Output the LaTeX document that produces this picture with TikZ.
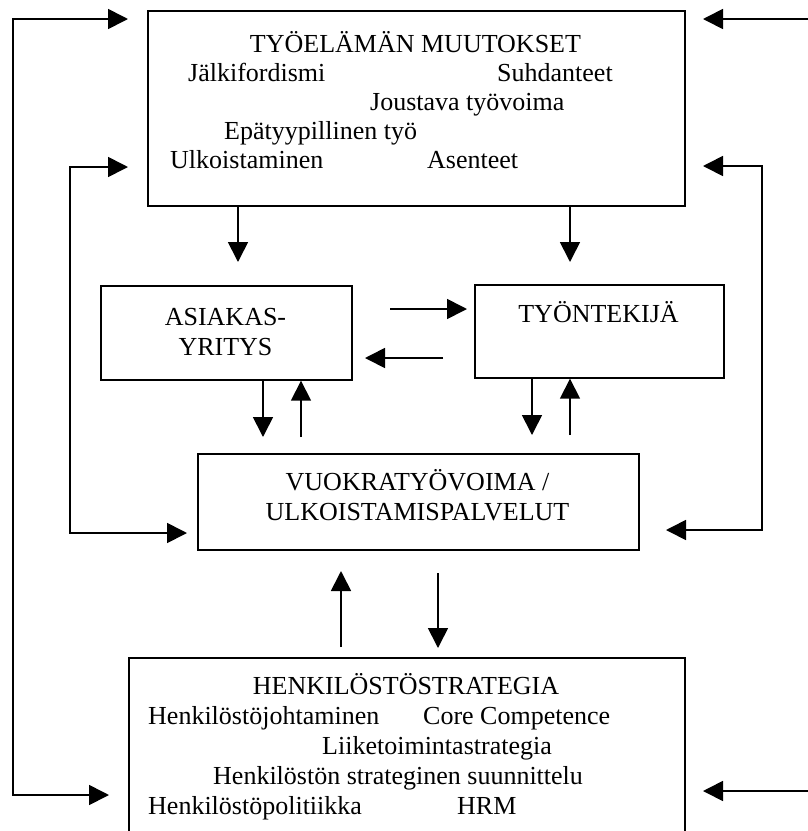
\documentclass[tikz,border=0pt]{standalone}
\usepackage{fontspec}
\setmainfont{Liberation Serif}
\usetikzlibrary{arrows.meta}
\begin{document}
\begin{tikzpicture}[x=1pt,y=-1pt,
  box/.style={draw, line width=1.7pt, inner sep=0pt, anchor=north west},
  txt/.style={inner sep=0pt, anchor=base west, font=\fontsize{26}{30}\selectfont},
  ctxt/.style={inner sep=0pt, anchor=base, font=\fontsize{26}{30}\selectfont},
  link/.style={line width=1.7pt},
  arr/.style={link, -{Triangle[length=20pt,width=20pt]}},
  dblarr/.style={link, {Triangle[length=20pt,width=20pt]}-{Triangle[length=20pt,width=20pt]}}]
\useasboundingbox (0,0) rectangle (808,831);
\clip (0,0) rectangle (808,831);

% ---- boxes ----
\node[box, minimum width=537pt, minimum height=195pt] (muutokset) at (147,10) {};
\node[box, minimum width=251pt, minimum height=94pt] (asiakas) at (100,285) {};
\node[box, minimum width=249pt, minimum height=93pt] (tyontekija) at (474,284) {};
\node[box, minimum width=441pt, minimum height=96pt] (vuokra) at (197,453) {};
\node[box, minimum width=556pt, minimum height=220pt] (strategia) at (128,657) {};

% ---- texts: working-life changes ----
\node[ctxt] (m-title) at (415.5,52) {TYÖELÄMÄN MUUTOKSET};
\node[txt] (m-jalki) at (188,81) {Jälkifordismi};
\node[txt] (m-suhd) at (497,81) {Suhdanteet};
\node[txt] (m-joust) at (370,110) {Joustava työvoima};
\node[txt] (m-epa) at (224,139) {Epätyypillinen työ};
\node[txt] (m-ulko) at (170,168) {Ulkoistaminen};
\node[txt] (m-asen) at (427,168) {Asenteet};

% ---- texts: middle boxes ----
\node[ctxt] (as-1) at (225.5,325) {ASIAKAS-};
\node[ctxt] (as-2) at (225.5,355) {YRITYS};
\node[ctxt] (ty-1) at (598.5,322) {TYÖNTEKIJÄ};
\node[ctxt] (vu-1) at (417.5,490) {VUOKRATYÖVOIMA /};
\node[ctxt] (vu-2) at (417.5,520) {ULKOISTAMISPALVELUT};

% ---- texts: personnel strategy ----
\node[ctxt] (s-title) at (406,694) {HENKILÖSTÖSTRATEGIA};
\node[txt] (s-johto) at (148,724) {Henkilöstöjohtaminen};
\node[txt] (s-core) at (423,724) {Core Competence};
\node[txt] (s-liike) at (322,754) {Liiketoimintastrategia};
\node[txt] (s-suun) at (213,784) {Henkilöstön strateginen suunnittelu};
\node[txt] (s-poli) at (148,814) {Henkilöstöpolitiikka};
\node[txt] (s-hrm) at (457,814) {HRM};

% ---- connector end points and corners ----
\coordinate (ol-top) at (128,19);
\coordinate (ol-c1) at (13,19);
\coordinate (ol-c2) at (13,795);
\coordinate (ol-bot) at (109,795);
\coordinate (il-top) at (128,167);
\coordinate (il-c1) at (70,167);
\coordinate (il-c2) at (70,533);
\coordinate (il-bot) at (187,533);
\coordinate (ir-top) at (703,166);
\coordinate (ir-c1) at (762,166);
\coordinate (ir-c2) at (762,530);
\coordinate (ir-bot) at (666,530);
\coordinate (or-top-in) at (812,19);
\coordinate (or-top) at (703,19);
\coordinate (or-bot-in) at (812,791);
\coordinate (or-bot) at (703,791);
\coordinate (d1) at (238,262);
\coordinate (d2) at (570,262);
\coordinate (h1s) at (390,309);
\coordinate (h1e) at (467,309);
\coordinate (h2s) at (443,358);
\coordinate (h2e) at (365,358);
\coordinate (a-dn) at (263,437);
\coordinate (a-up) at (301,437);
\coordinate (b-dn) at (532,435);
\coordinate (b-up) at (570,435);
\coordinate (c-up-s) at (341,647);
\coordinate (c-up-e) at (341,571);
\coordinate (c-dn-s) at (438,573);
\coordinate (c-dn-e) at (438,648);

% ---- feedback loops ----
\draw[dblarr] (ol-top) -- (ol-c1) -- (ol-c2) -- (ol-bot);
\draw[dblarr] (il-top) -- (il-c1) -- (il-c2) -- (il-bot);
\draw[dblarr] (ir-top) -- (ir-c1) -- (ir-c2) -- (ir-bot);
\draw[arr] (or-top-in) -- (or-top);
\draw[arr] (or-bot-in) -- (or-bot);

% ---- flows between boxes ----
\draw[arr] (muutokset.south -| d1) -- (d1);
\draw[arr] (muutokset.south -| d2) -- (d2);
\draw[arr] (h1s) -- (h1e);
\draw[arr] (h2s) -- (h2e);
\draw[arr] (asiakas.south -| a-dn) -- (a-dn);
\draw[arr] (a-up) -- (asiakas.south -| a-up);
\draw[arr] (tyontekija.south -| b-dn) -- (b-dn);
\draw[arr] (b-up) -- (tyontekija.south -| b-up);
\draw[arr] (c-up-s) -- (c-up-e);
\draw[arr] (c-dn-s) -- (c-dn-e);
\end{tikzpicture}
\end{document}
